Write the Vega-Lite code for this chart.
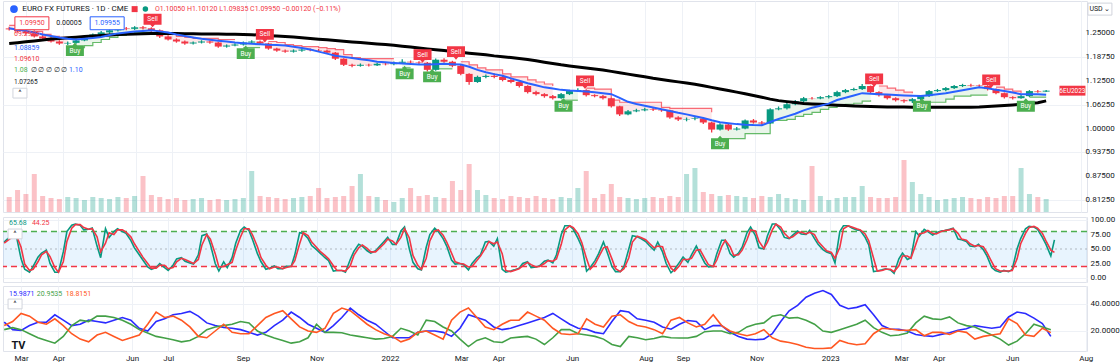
{
"$schema":"https://vega.github.io/schema/vega-lite/v6.json",
"padding":0,
"background":"#ffffff",
"spacing":2,
"config":{
 "view":{"stroke":"#e0e3eb"},
 "font":"Roboto",
 "axis":{"labelFont":"Roboto","labelFontSize":8,"labelColor":"#131722","labelOverlap":false,"domain":false,"ticks":false,"gridColor":"#eef1f6","title":null}
},
"datasets":{
"w":[
{"d":"2021-02-15","o":1.2630,"h":1.2672,"l":1.2575,"c":1.2606,"v":15,"b":1.2633,"m":1.2234,"st":1.2713,"g":1,"t":"dn","a":26.5,"p":21,"n":24},
{"d":"2021-02-22","o":1.2606,"h":1.2640,"l":1.2520,"c":1.2553,"v":22,"b":1.2593,"m":1.2255,"st":1.2659,"g":1,"t":"dn","a":21,"p":22.5,"n":27},
{"d":"2021-03-01","o":1.2553,"h":1.2590,"l":1.2465,"c":1.2500,"v":18,"b":1.2566,"m":1.2279,"st":1.2606,"g":1,"t":"dn","a":20.5,"p":21,"n":33},
{"d":"2021-03-08","o":1.2500,"h":1.2535,"l":1.2390,"c":1.2420,"v":38,"b":1.2526,"m":1.2303,"st":1.2553,"g":1,"t":"dn","a":24,"p":18,"n":31},
{"d":"2021-03-15","o":1.2420,"h":1.2455,"l":1.2330,"c":1.2367,"v":16,"b":1.2473,"m":1.2324,"st":1.2473,"g":1,"t":"dn","a":26.5,"p":15,"n":26.5},
{"d":"2021-03-22","o":1.2367,"h":1.2400,"l":1.2260,"c":1.2287,"v":14,"b":1.2433,"m":1.2351,"st":1.2420,"g":1,"t":"dn","a":26.5,"p":13,"n":25},
{"d":"2021-03-29","o":1.2287,"h":1.2320,"l":1.2200,"c":1.2234,"v":13,"b":1.2393,"m":1.2367,"st":1.2393,"g":1,"t":"dn","a":32,"p":11,"n":29},
{"d":"2021-04-05","o":1.2234,"h":1.2285,"l":1.2195,"c":1.2250,"v":15,"b":1.2359,"m":1.2385,"st":1.2393,"g":1,"t":"dn","a":28,"p":16,"n":24},
{"d":"2021-04-12","o":1.2250,"h":1.2345,"l":1.2230,"c":1.2314,"v":14,"b":1.2340,"m":1.2401,"st":1.2127,"g":2,"t":"up","a":24,"p":24,"n":18},
{"d":"2021-04-19","o":1.2314,"h":1.2420,"l":1.2295,"c":1.2393,"v":12,"b":1.2359,"m":1.2420,"st":1.2181,"g":2,"t":"up","a":25,"p":28,"n":14},
{"d":"2021-04-26","o":1.2393,"h":1.2500,"l":1.2370,"c":1.2473,"v":15,"b":1.2380,"m":1.2433,"st":1.2260,"g":2,"t":"up","a":28,"p":27,"n":12},
{"d":"2021-05-03","o":1.2473,"h":1.2560,"l":1.2445,"c":1.2526,"v":14,"b":1.2407,"m":1.2444,"st":1.2340,"g":2,"t":"up","a":27,"p":31,"n":17},
{"d":"2021-05-10","o":1.2526,"h":1.2615,"l":1.2490,"c":1.2580,"v":13,"b":1.2457,"m":1.2457,"st":1.2393,"g":2,"t":"up","a":26,"p":31,"n":19},
{"d":"2021-05-17","o":1.2580,"h":1.2665,"l":1.2550,"c":1.2633,"v":15,"b":1.2500,"m":1.2468,"st":1.2447,"g":2,"t":"up","a":28,"p":30,"n":16},
{"d":"2021-05-24","o":1.2633,"h":1.2670,"l":1.2585,"c":1.2620,"v":14,"b":1.2526,"m":1.2476,"st":1.2500,"g":2,"t":"up","a":30,"p":28,"n":13},
{"d":"2021-05-31","o":1.2620,"h":1.2690,"l":1.2590,"c":1.2659,"v":16,"b":1.2548,"m":1.2484,"st":1.2526,"g":2,"t":"up","a":28,"p":25,"n":15},
{"d":"2021-06-07","o":1.2659,"h":1.2695,"l":1.2600,"c":1.2633,"v":36,"b":1.2564,"m":1.2492,"st":1.2526,"g":2,"t":"up","a":22,"p":21,"n":17},
{"d":"2021-06-14","o":1.2633,"h":1.2660,"l":1.2540,"c":1.2580,"v":17,"b":1.2580,"m":1.2497,"st":1.2526,"g":2,"t":"up","a":20,"p":18.5,"n":25},
{"d":"2021-06-21","o":1.2580,"h":1.2600,"l":1.2380,"c":1.2420,"v":15,"b":1.2553,"m":1.2500,"st":1.2526,"g":3,"t":"dn","a":27,"p":16,"n":34},
{"d":"2021-06-28","o":1.2420,"h":1.2450,"l":1.2310,"c":1.2340,"v":13,"b":1.2521,"m":1.2500,"st":1.2473,"g":3,"t":"dn","a":29,"p":14.8,"n":30},
{"d":"2021-07-05","o":1.2340,"h":1.2370,"l":1.2255,"c":1.2287,"v":14,"b":1.2473,"m":1.2495,"st":1.2420,"g":3,"t":"dn","a":32,"p":13.5,"n":31},
{"d":"2021-07-12","o":1.2287,"h":1.2310,"l":1.2200,"c":1.2234,"v":12,"b":1.2431,"m":1.2492,"st":1.2393,"g":3,"t":"dn","a":33,"p":12,"n":28},
{"d":"2021-07-19","o":1.2234,"h":1.2290,"l":1.2205,"c":1.2260,"v":13,"b":1.2393,"m":1.2489,"st":1.2367,"g":3,"t":"dn","a":34.5,"p":13,"n":23},
{"d":"2021-07-26","o":1.2260,"h":1.2320,"l":1.2235,"c":1.2287,"v":14,"b":1.2359,"m":1.2486,"st":1.2367,"g":3,"t":"dn","a":31,"p":16,"n":16},
{"d":"2021-08-02","o":1.2287,"h":1.2310,"l":1.2230,"c":1.2260,"v":12,"b":1.2332,"m":1.2484,"st":1.2367,"g":3,"t":"dn","a":26,"p":21,"n":15},
{"d":"2021-08-09","o":1.2260,"h":1.2280,"l":1.2120,"c":1.2154,"v":13,"b":1.2308,"m":1.2481,"st":1.2340,"g":3,"t":"dn","a":24,"p":23,"n":20},
{"d":"2021-08-16","o":1.2154,"h":1.2210,"l":1.2125,"c":1.2181,"v":12,"b":1.2287,"m":1.2478,"st":1.2340,"g":3,"t":"dn","a":22.6,"p":24,"n":25},
{"d":"2021-08-23","o":1.2181,"h":1.2240,"l":1.2160,"c":1.2207,"v":13,"b":1.2260,"m":1.2476,"st":1.2340,"g":3,"t":"dn","a":22,"p":25,"n":19},
{"d":"2021-08-30","o":1.2207,"h":1.2290,"l":1.2185,"c":1.2260,"v":14,"b":1.2242,"m":1.2473,"st":1.2127,"g":4,"t":"up","a":21,"p":27,"n":18},
{"d":"2021-09-06","o":1.2260,"h":1.2320,"l":1.2235,"c":1.2287,"v":41,"b":1.2226,"m":1.2465,"st":1.2127,"g":4,"t":"up","a":19,"p":26,"n":18},
{"d":"2021-09-13","o":1.2287,"h":1.2310,"l":1.2200,"c":1.2234,"v":16,"b":1.2215,"m":1.2455,"st":1.2127,"g":4,"t":"up","a":17,"p":20,"n":24},
{"d":"2021-09-20","o":1.2234,"h":1.2255,"l":1.2070,"c":1.2101,"v":15,"b":1.2202,"m":1.2441,"st":1.2287,"g":5,"t":"dn","a":19,"p":17,"n":30},
{"d":"2021-09-27","o":1.2101,"h":1.2125,"l":1.2015,"c":1.2048,"v":14,"b":1.2194,"m":1.2431,"st":1.2260,"g":5,"t":"dn","a":24,"p":14.8,"n":33},
{"d":"2021-10-04","o":1.2048,"h":1.2075,"l":1.1990,"c":1.2021,"v":13,"b":1.2181,"m":1.2420,"st":1.2207,"g":5,"t":"dn","a":28,"p":13,"n":35},
{"d":"2021-10-11","o":1.2021,"h":1.2080,"l":1.1995,"c":1.2048,"v":14,"b":1.2149,"m":1.2404,"st":1.2181,"g":5,"t":"dn","a":34,"p":11,"n":29},
{"d":"2021-10-18","o":1.2048,"h":1.2105,"l":1.2020,"c":1.2074,"v":15,"b":1.2117,"m":1.2385,"st":1.2154,"g":5,"t":"dn","a":30,"p":12,"n":23},
{"d":"2021-10-25","o":1.2074,"h":1.2100,"l":1.2030,"c":1.2060,"v":16,"b":1.2074,"m":1.2367,"st":1.2154,"g":5,"t":"dn","a":25,"p":15,"n":20},
{"d":"2021-11-01","o":1.2060,"h":1.2090,"l":1.2015,"c":1.2048,"v":24,"b":1.2021,"m":1.2348,"st":1.2127,"g":5,"t":"dn","a":22,"p":25,"n":19},
{"d":"2021-11-08","o":1.2048,"h":1.2070,"l":1.1960,"c":1.1994,"v":14,"b":1.1968,"m":1.2332,"st":1.2101,"g":5,"t":"dn","a":19,"p":19,"n":22},
{"d":"2021-11-15","o":1.1994,"h":1.2010,"l":1.1800,"c":1.1835,"v":15,"b":1.1915,"m":1.2314,"st":1.2074,"g":5,"t":"dn","a":24,"p":19,"n":33},
{"d":"2021-11-22","o":1.1835,"h":1.1850,"l":1.1640,"c":1.1675,"v":16,"b":1.1883,"m":1.2295,"st":1.1941,"g":5,"t":"dn","a":30,"p":18.7,"n":37},
{"d":"2021-11-29","o":1.1675,"h":1.1700,"l":1.1610,"c":1.1649,"v":26,"b":1.1853,"m":1.2276,"st":1.1861,"g":5,"t":"dn","a":37,"p":17,"n":35},
{"d":"2021-12-06","o":1.1649,"h":1.1710,"l":1.1625,"c":1.1675,"v":38,"b":1.1821,"m":1.2258,"st":1.1835,"g":5,"t":"dn","a":32,"p":16,"n":30},
{"d":"2021-12-13","o":1.1675,"h":1.1700,"l":1.1630,"c":1.1660,"v":16,"b":1.1792,"m":1.2242,"st":1.1835,"g":5,"t":"dn","a":28,"p":15,"n":25},
{"d":"2021-12-20","o":1.1660,"h":1.1730,"l":1.1640,"c":1.1702,"v":15,"b":1.1755,"m":1.2223,"st":1.1835,"g":5,"t":"dn","a":25,"p":14,"n":21},
{"d":"2021-12-27","o":1.1702,"h":1.1725,"l":1.1660,"c":1.1690,"v":12,"b":1.1739,"m":1.2207,"st":1.1835,"g":5,"t":"dn","a":20,"p":14.5,"n":18},
{"d":"2022-01-03","o":1.1690,"h":1.1760,"l":1.1665,"c":1.1728,"v":10,"b":1.1723,"m":1.2186,"st":1.1835,"g":5,"t":"dn","a":15,"p":16,"n":16},
{"d":"2022-01-10","o":1.1728,"h":1.1820,"l":1.1710,"c":1.1755,"v":14,"b":1.1707,"m":1.2165,"st":1.1595,"g":6,"t":"up","a":15,"p":22,"n":12},
{"d":"2022-01-17","o":1.1755,"h":1.1790,"l":1.1715,"c":1.1740,"v":24,"b":1.1694,"m":1.2141,"st":1.1595,"g":6,"t":"up","a":15,"p":20,"n":14},
{"d":"2022-01-24","o":1.1740,"h":1.1770,"l":1.1690,"c":1.1728,"v":16,"b":1.1681,"m":1.2117,"st":1.1861,"g":7,"t":"dn","a":19,"p":17,"n":19},
{"d":"2022-01-31","o":1.1728,"h":1.1745,"l":1.1500,"c":1.1542,"v":17,"b":1.1681,"m":1.2093,"st":1.1861,"g":7,"t":"dn","a":20,"p":28,"n":20},
{"d":"2022-02-07","o":1.1542,"h":1.1840,"l":1.1520,"c":1.1808,"v":15,"b":1.1691,"m":1.2072,"st":1.1569,"g":8,"t":"up","a":20,"p":27,"n":17},
{"d":"2022-02-14","o":1.1808,"h":1.1850,"l":1.1730,"c":1.1755,"v":14,"b":1.1702,"m":1.2048,"st":1.1569,"g":8,"t":"up","a":19,"p":23,"n":14},
{"d":"2022-02-21","o":1.1755,"h":1.1780,"l":1.1610,"c":1.1649,"v":31,"b":1.1691,"m":1.2024,"st":1.1569,"g":8,"t":"up","a":16,"p":20,"n":28},
{"d":"2022-02-28","o":1.1649,"h":1.1670,"l":1.1400,"c":1.1436,"v":22,"b":1.1681,"m":1.2002,"st":1.1755,"g":9,"t":"dn","a":22,"p":14,"n":34},
{"d":"2022-03-07","o":1.1436,"h":1.1450,"l":1.1150,"c":1.1223,"v":48,"b":1.1622,"m":1.1981,"st":1.1675,"g":9,"t":"dn","a":32,"p":8.5,"n":37},
{"d":"2022-03-14","o":1.1223,"h":1.1390,"l":1.1200,"c":1.1356,"v":22,"b":1.1542,"m":1.1957,"st":1.1595,"g":9,"t":"dn","a":30,"p":13,"n":30},
{"d":"2022-03-21","o":1.1356,"h":1.1420,"l":1.1320,"c":1.1383,"v":17,"b":1.1478,"m":1.1936,"st":1.1542,"g":9,"t":"dn","a":28,"p":15,"n":23},
{"d":"2022-03-28","o":1.1383,"h":1.1450,"l":1.1320,"c":1.1356,"v":14,"b":1.1430,"m":1.1909,"st":1.1542,"g":9,"t":"dn","a":23,"p":12,"n":21},
{"d":"2022-04-04","o":1.1356,"h":1.1380,"l":1.1240,"c":1.1276,"v":13,"b":1.1388,"m":1.1888,"st":1.1436,"g":9,"t":"dn","a":21,"p":11.5,"n":25},
{"d":"2022-04-11","o":1.1276,"h":1.1300,"l":1.1190,"c":1.1223,"v":16,"b":1.1319,"m":1.1864,"st":1.1356,"g":9,"t":"dn","a":22,"p":14.8,"n":28},
{"d":"2022-04-18","o":1.1223,"h":1.1240,"l":1.1080,"c":1.1117,"v":15,"b":1.1255,"m":1.1840,"st":1.1356,"g":9,"t":"dn","a":24,"p":15.5,"n":28},
{"d":"2022-04-25","o":1.1117,"h":1.1135,"l":1.0920,"c":1.0957,"v":14,"b":1.1191,"m":1.1813,"st":1.1276,"g":9,"t":"dn","a":26,"p":16,"n":34},
{"d":"2022-05-02","o":1.0957,"h":1.0990,"l":1.0870,"c":1.0904,"v":16,"b":1.1135,"m":1.1779,"st":1.1223,"g":9,"t":"dn","a":28,"p":14,"n":31},
{"d":"2022-05-09","o":1.0904,"h":1.0930,"l":1.0810,"c":1.0851,"v":14,"b":1.1082,"m":1.1744,"st":1.1170,"g":9,"t":"dn","a":30,"p":10,"n":28},
{"d":"2022-05-16","o":1.0851,"h":1.0880,"l":1.0760,"c":1.0797,"v":13,"b":1.1050,"m":1.1710,"st":1.1117,"g":9,"t":"dn","a":33,"p":15,"n":22},
{"d":"2022-05-23","o":1.0797,"h":1.0935,"l":1.0780,"c":1.0904,"v":15,"b":1.1016,"m":1.1675,"st":1.0744,"g":10,"t":"up","a":29,"p":21,"n":18},
{"d":"2022-05-30","o":1.0904,"h":1.1020,"l":1.0880,"c":1.0984,"v":14,"b":1.1000,"m":1.1646,"st":1.0744,"g":10,"t":"up","a":25,"p":21,"n":17.4},
{"d":"2022-06-06","o":1.0984,"h":1.1060,"l":1.0960,"c":1.1010,"v":24,"b":1.0989,"m":1.1617,"st":1.0744,"g":10,"t":"up","a":22,"p":18,"n":18},
{"d":"2022-06-13","o":1.1010,"h":1.1030,"l":1.0840,"c":1.0877,"v":41,"b":1.0973,"m":1.1590,"st":1.1063,"g":11,"t":"dn","a":21.3,"p":17,"n":29},
{"d":"2022-06-20","o":1.0877,"h":1.0900,"l":1.0820,"c":1.0851,"v":14,"b":1.0952,"m":1.1563,"st":1.1037,"g":11,"t":"dn","a":19,"p":16,"n":25},
{"d":"2022-06-27","o":1.0851,"h":1.0880,"l":1.0760,"c":1.0797,"v":18,"b":1.0928,"m":1.1537,"st":1.1037,"g":11,"t":"dn","a":18,"p":14,"n":23},
{"d":"2022-07-04","o":1.0797,"h":1.0810,"l":1.0550,"c":1.0585,"v":28,"b":1.0904,"m":1.1502,"st":1.0744,"g":11,"t":"dn","a":27,"p":10,"n":31},
{"d":"2022-07-11","o":1.0585,"h":1.0600,"l":1.0330,"c":1.0372,"v":15,"b":1.0805,"m":1.1468,"st":1.0691,"g":11,"t":"dn","a":35,"p":8.5,"n":32},
{"d":"2022-07-18","o":1.0372,"h":1.0490,"l":1.0350,"c":1.0452,"v":14,"b":1.0702,"m":1.1430,"st":1.0691,"g":11,"t":"dn","a":34,"p":16,"n":27},
{"d":"2022-07-25","o":1.0452,"h":1.0520,"l":1.0430,"c":1.0478,"v":13,"b":1.0646,"m":1.1393,"st":1.0691,"g":11,"t":"dn","a":29,"p":15,"n":24},
{"d":"2022-08-01","o":1.0478,"h":1.0545,"l":1.0455,"c":1.0505,"v":14,"b":1.0601,"m":1.1359,"st":1.0691,"g":11,"t":"dn","a":28,"p":13.5,"n":23},
{"d":"2022-08-08","o":1.0505,"h":1.0550,"l":1.0460,"c":1.0490,"v":15,"b":1.0555,"m":1.1321,"st":1.0691,"g":11,"t":"dn","a":26.5,"p":14.5,"n":21},
{"d":"2022-08-15","o":1.0490,"h":1.0520,"l":1.0440,"c":1.0478,"v":14,"b":1.0505,"m":1.1290,"st":1.0558,"g":11,"t":"dn","a":23,"p":16,"n":18},
{"d":"2022-08-22","o":1.0478,"h":1.0495,"l":1.0255,"c":1.0292,"v":16,"b":1.0462,"m":1.1258,"st":1.0531,"g":11,"t":"dn","a":21.3,"p":15,"n":28},
{"d":"2022-08-29","o":1.0292,"h":1.0320,"l":1.0200,"c":1.0239,"v":15,"b":1.0414,"m":1.1226,"st":1.0531,"g":11,"t":"dn","a":25,"p":14.8,"n":30},
{"d":"2022-09-05","o":1.0239,"h":1.0290,"l":1.0190,"c":1.0250,"v":38,"b":1.0372,"m":1.1196,"st":1.0531,"g":11,"t":"dn","a":27.8,"p":14.8,"n":26},
{"d":"2022-09-12","o":1.0250,"h":1.0320,"l":1.0220,"c":1.0265,"v":44,"b":1.0324,"m":1.1165,"st":1.0531,"g":11,"t":"dn","a":27,"p":16,"n":23},
{"d":"2022-09-19","o":1.0265,"h":1.0290,"l":1.0120,"c":1.0159,"v":20,"b":1.0279,"m":1.1125,"st":1.0531,"g":11,"t":"dn","a":21,"p":19.5,"n":25},
{"d":"2022-09-26","o":1.0159,"h":1.0180,"l":0.9893,"c":0.9973,"v":18,"b":1.0218,"m":1.1082,"st":1.0425,"g":11,"t":"dn","a":24,"p":20,"n":32},
{"d":"2022-10-03","o":0.9973,"h":1.0140,"l":0.9950,"c":1.0106,"v":16,"b":1.0164,"m":1.1040,"st":0.9733,"g":12,"t":"up","a":24,"p":20,"n":24},
{"d":"2022-10-10","o":1.0106,"h":1.0125,"l":0.9940,"c":0.9973,"v":17,"b":1.0138,"m":1.0997,"st":0.9733,"g":12,"t":"up","a":19,"p":18,"n":20},
{"d":"2022-10-17","o":0.9973,"h":1.0040,"l":0.9950,"c":0.9999,"v":16,"b":1.0116,"m":1.0957,"st":0.9733,"g":12,"t":"up","a":16,"p":19,"n":18},
{"d":"2022-10-24","o":0.9999,"h":1.0240,"l":0.9980,"c":1.0212,"v":15,"b":1.0100,"m":1.0914,"st":0.9866,"g":12,"t":"up","a":14,"p":23,"n":16.5},
{"d":"2022-10-31","o":1.0212,"h":1.0250,"l":1.0130,"c":1.0159,"v":14,"b":1.0090,"m":1.0867,"st":0.9866,"g":12,"t":"up","a":13.5,"p":25,"n":18},
{"d":"2022-11-07","o":1.0159,"h":1.0200,"l":1.0100,"c":1.0132,"v":16,"b":1.0085,"m":1.0821,"st":0.9866,"g":12,"t":"up","a":14,"p":26,"n":21},
{"d":"2022-11-14","o":1.0132,"h":1.0530,"l":1.0120,"c":1.0505,"v":15,"b":1.0172,"m":1.0773,"st":1.0212,"g":12,"t":"up","a":18,"p":31,"n":15},
{"d":"2022-11-21","o":1.0505,"h":1.0580,"l":1.0480,"c":1.0531,"v":18,"b":1.0249,"m":1.0733,"st":1.0212,"g":12,"t":"up","a":27,"p":32,"n":12.5},
{"d":"2022-11-28","o":1.0531,"h":1.0670,"l":1.0500,"c":1.0638,"v":14,"b":1.0319,"m":1.0707,"st":1.0239,"g":12,"t":"up","a":35,"p":29.5,"n":11.5},
{"d":"2022-12-05","o":1.0638,"h":1.0750,"l":1.0610,"c":1.0718,"v":13,"b":1.0390,"m":1.0683,"st":1.0319,"g":12,"t":"up","a":39,"p":30,"n":10},
{"d":"2022-12-12","o":1.0718,"h":1.0830,"l":1.0690,"c":1.0797,"v":12,"b":1.0476,"m":1.0656,"st":1.0372,"g":12,"t":"up","a":45,"p":28,"n":8},
{"d":"2022-12-19","o":1.0797,"h":1.0830,"l":1.0760,"c":1.0790,"v":46,"b":1.0545,"m":1.0646,"st":1.0425,"g":12,"t":"up","a":48,"p":25,"n":7},
{"d":"2022-12-26","o":1.0790,"h":1.0850,"l":1.0770,"c":1.0824,"v":16,"b":1.0601,"m":1.0635,"st":1.0505,"g":12,"t":"up","a":49.9,"p":20,"n":7},
{"d":"2023-01-02","o":1.0824,"h":1.0880,"l":1.0790,"c":1.0851,"v":12,"b":1.0654,"m":1.0622,"st":1.0558,"g":12,"t":"up","a":47,"p":19,"n":7.5},
{"d":"2023-01-09","o":1.0851,"h":1.0990,"l":1.0830,"c":1.0957,"v":14,"b":1.0750,"m":1.0611,"st":1.0585,"g":12,"t":"up","a":39,"p":21,"n":13},
{"d":"2023-01-16","o":1.0957,"h":1.1040,"l":1.0930,"c":1.1010,"v":15,"b":1.0811,"m":1.0603,"st":1.0638,"g":12,"t":"up","a":36.5,"p":23,"n":11},
{"d":"2023-01-23","o":1.1010,"h":1.1070,"l":1.0990,"c":1.1037,"v":15,"b":1.0869,"m":1.0595,"st":1.0665,"g":12,"t":"up","a":37.5,"p":25,"n":9.8},
{"d":"2023-01-30","o":1.1037,"h":1.1170,"l":1.1010,"c":1.1117,"v":26,"b":1.0930,"m":1.0585,"st":1.0718,"g":12,"t":"up","a":39.5,"p":28,"n":10.5},
{"d":"2023-02-06","o":1.1117,"h":1.1130,"l":1.0920,"c":1.0957,"v":15,"b":1.0917,"m":1.0577,"st":1.0744,"g":12,"t":"up","a":32,"p":22.5,"n":18},
{"d":"2023-02-13","o":1.0957,"h":1.0980,"l":1.0840,"c":1.0877,"v":14,"b":1.0904,"m":1.0571,"st":1.1117,"g":13,"t":"dn","a":24,"p":19,"n":22},
{"d":"2023-02-20","o":1.0877,"h":1.0900,"l":1.0760,"c":1.0797,"v":14,"b":1.0893,"m":1.0569,"st":1.1063,"g":13,"t":"dn","a":21.3,"p":16.5,"n":21.5},
{"d":"2023-02-27","o":1.0797,"h":1.0820,"l":1.0710,"c":1.0744,"v":15,"b":1.0883,"m":1.0566,"st":1.1010,"g":13,"t":"dn","a":21.3,"p":17,"n":20.5},
{"d":"2023-03-06","o":1.0744,"h":1.0770,"l":1.0680,"c":1.0718,"v":52,"b":1.0869,"m":1.0563,"st":1.0957,"g":13,"t":"dn","a":20,"p":18.5,"n":20.5},
{"d":"2023-03-13","o":1.0718,"h":1.0800,"l":1.0670,"c":1.0771,"v":30,"b":1.0859,"m":1.0561,"st":1.0930,"g":13,"t":"dn","a":17.4,"p":26,"n":21},
{"d":"2023-03-20","o":1.0771,"h":1.0880,"l":1.0750,"c":1.0851,"v":18,"b":1.0853,"m":1.0558,"st":1.0691,"g":14,"t":"up","a":16.5,"p":31,"n":16.5},
{"d":"2023-03-27","o":1.0851,"h":1.1010,"l":1.0830,"c":1.0984,"v":15,"b":1.0872,"m":1.0558,"st":1.0691,"g":14,"t":"up","a":16,"p":29,"n":19},
{"d":"2023-04-03","o":1.0984,"h":1.1040,"l":1.0960,"c":1.1010,"v":12,"b":1.0898,"m":1.0558,"st":1.0691,"g":14,"t":"up","a":17.5,"p":28.5,"n":19},
{"d":"2023-04-10","o":1.1010,"h":1.1090,"l":1.0980,"c":1.1063,"v":13,"b":1.0925,"m":1.0558,"st":1.0771,"g":14,"t":"up","a":18.7,"p":30.4,"n":17.4},
{"d":"2023-04-17","o":1.1063,"h":1.1145,"l":1.1040,"c":1.1117,"v":14,"b":1.0968,"m":1.0558,"st":1.0851,"g":14,"t":"up","a":20.5,"p":26,"n":20},
{"d":"2023-04-24","o":1.1117,"h":1.1175,"l":1.1090,"c":1.1143,"v":15,"b":1.1008,"m":1.0558,"st":1.0851,"g":14,"t":"up","a":21.6,"p":24,"n":19},
{"d":"2023-05-01","o":1.1143,"h":1.1180,"l":1.1100,"c":1.1130,"v":14,"b":1.1047,"m":1.0558,"st":1.0877,"g":14,"t":"up","a":24,"p":23,"n":14},
{"d":"2023-05-08","o":1.1130,"h":1.1160,"l":1.1085,"c":1.1117,"v":13,"b":1.1085,"m":1.0566,"st":1.0877,"g":14,"t":"up","a":23,"p":20,"n":16},
{"d":"2023-05-15","o":1.1117,"h":1.1140,"l":1.1000,"c":1.1037,"v":15,"b":1.1055,"m":1.0579,"st":1.0877,"g":14,"t":"up","a":22,"p":17,"n":17},
{"d":"2023-05-22","o":1.1037,"h":1.1050,"l":1.0900,"c":1.0930,"v":14,"b":1.1021,"m":1.0593,"st":1.1090,"g":15,"t":"dn","a":23,"p":14,"n":18},
{"d":"2023-05-29","o":1.0930,"h":1.0950,"l":1.0790,"c":1.0824,"v":16,"b":1.0989,"m":1.0606,"st":1.1037,"g":15,"t":"dn","a":30.4,"p":9.6,"n":29},
{"d":"2023-06-05","o":1.0824,"h":1.0850,"l":1.0765,"c":1.0797,"v":16,"b":1.0946,"m":1.0619,"st":1.0984,"g":15,"t":"dn","a":34,"p":12.5,"n":25.5},
{"d":"2023-06-12","o":1.0797,"h":1.0880,"l":1.0780,"c":1.0851,"v":44,"b":1.0904,"m":1.0635,"st":1.0930,"g":15,"t":"dn","a":33,"p":18,"n":17},
{"d":"2023-06-19","o":1.0851,"h":1.1010,"l":1.0830,"c":1.0984,"v":18,"b":1.0904,"m":1.0656,"st":1.0824,"g":16,"t":"up","a":29.5,"p":25,"n":16},
{"d":"2023-06-26","o":1.0984,"h":1.1012,"l":1.0940,"c":1.0970,"v":15,"b":1.0900,"m":1.0680,"st":1.0824,"g":16,"t":"up","a":25.5,"p":23,"n":22},
{"d":"2023-07-03","o":1.0970,"h":1.1012,"l":1.0960,"c":1.0995,"v":13,"b":1.0886,"m":1.0727,"st":1.0824,"g":16,"t":"up","a":16,"p":21,"n":18.8}
],
"stoch":[
{"d":"2021-02-15","k":62,"s":60},{"d":"2021-02-18","k":68,"s":65},
{"d":"2021-02-22","k":74,"s":71},{"d":"2021-02-25","k":73,"s":74},
{"d":"2021-03-01","k":33,"s":53},{"d":"2021-03-04","k":15,"s":24},
{"d":"2021-03-08","k":10,"s":13},{"d":"2021-03-11","k":20,"s":15},
{"d":"2021-03-15","k":36,"s":28},{"d":"2021-03-18","k":43,"s":40},
{"d":"2021-03-22","k":48,"s":46},{"d":"2021-03-25","k":25,"s":37},
{"d":"2021-03-29","k":10,"s":18},{"d":"2021-04-01","k":10,"s":10},
{"d":"2021-04-05","k":45,"s":28},{"d":"2021-04-08","k":80,"s":63},
{"d":"2021-04-12","k":91,"s":86},{"d":"2021-04-15","k":93,"s":92},
{"d":"2021-04-19","k":91,"s":92},{"d":"2021-04-22","k":83,"s":87},
{"d":"2021-04-26","k":84,"s":84},{"d":"2021-04-29","k":86,"s":85},
{"d":"2021-05-03","k":55,"s":71},{"d":"2021-05-06","k":35,"s":45},
{"d":"2021-05-10","k":85,"s":60},{"d":"2021-05-13","k":70,"s":78},
{"d":"2021-05-17","k":80,"s":75},{"d":"2021-05-20","k":85,"s":83},
{"d":"2021-05-24","k":80,"s":83},{"d":"2021-05-27","k":77,"s":79},
{"d":"2021-05-31","k":65,"s":71},{"d":"2021-06-03","k":52,"s":59},
{"d":"2021-06-07","k":40,"s":46},{"d":"2021-06-10","k":31,"s":36},
{"d":"2021-06-14","k":19,"s":25},{"d":"2021-06-17","k":15,"s":17},
{"d":"2021-06-21","k":18,"s":17},{"d":"2021-06-24","k":25,"s":22},
{"d":"2021-06-28","k":18,"s":22},{"d":"2021-07-01","k":13,"s":16},
{"d":"2021-07-05","k":22,"s":18},{"d":"2021-07-08","k":33,"s":28},
{"d":"2021-07-12","k":35,"s":34},{"d":"2021-07-15","k":29,"s":32},
{"d":"2021-07-19","k":26,"s":28},{"d":"2021-07-22","k":24,"s":25},
{"d":"2021-07-26","k":40,"s":32},{"d":"2021-07-29","k":73,"s":57},
{"d":"2021-08-02","k":76,"s":75},{"d":"2021-08-05","k":58,"s":67},
{"d":"2021-08-09","k":25,"s":42},{"d":"2021-08-12","k":12,"s":19},
{"d":"2021-08-16","k":28,"s":20},{"d":"2021-08-19","k":18,"s":23},
{"d":"2021-08-23","k":35,"s":27},{"d":"2021-08-26","k":60,"s":48},
{"d":"2021-08-30","k":82,"s":71},{"d":"2021-09-02","k":88,"s":85},
{"d":"2021-09-06","k":82,"s":85},{"d":"2021-09-09","k":66,"s":74},
{"d":"2021-09-13","k":42,"s":54},{"d":"2021-09-16","k":28,"s":35},
{"d":"2021-09-20","k":15,"s":22},{"d":"2021-09-23","k":17,"s":16},
{"d":"2021-09-27","k":21,"s":19},{"d":"2021-09-30","k":16,"s":19},
{"d":"2021-10-04","k":16,"s":16},{"d":"2021-10-07","k":20,"s":18},
{"d":"2021-10-11","k":20,"s":20},{"d":"2021-10-14","k":40,"s":30},
{"d":"2021-10-18","k":78,"s":59},{"d":"2021-10-21","k":77,"s":78},
{"d":"2021-10-25","k":68,"s":73},{"d":"2021-10-28","k":56,"s":62},
{"d":"2021-11-01","k":49,"s":53},{"d":"2021-11-04","k":43,"s":46},
{"d":"2021-11-08","k":35,"s":39},{"d":"2021-11-11","k":30,"s":33},
{"d":"2021-11-15","k":12,"s":21},{"d":"2021-11-18","k":13,"s":13},
{"d":"2021-11-22","k":13,"s":13},{"d":"2021-11-25","k":10,"s":12},
{"d":"2021-11-29","k":32,"s":21},{"d":"2021-12-02","k":46,"s":39},
{"d":"2021-12-06","k":58,"s":52},{"d":"2021-12-09","k":55,"s":57},
{"d":"2021-12-13","k":47,"s":51},{"d":"2021-12-16","k":43,"s":45},
{"d":"2021-12-20","k":47,"s":45},{"d":"2021-12-23","k":54,"s":51},
{"d":"2021-12-27","k":63,"s":59},{"d":"2021-12-30","k":70,"s":67},
{"d":"2022-01-03","k":58,"s":64},{"d":"2022-01-06","k":58,"s":58},
{"d":"2022-01-10","k":81,"s":70},{"d":"2022-01-13","k":88,"s":85},
{"d":"2022-01-17","k":50,"s":69},{"d":"2022-01-20","k":27,"s":39},
{"d":"2022-01-24","k":16,"s":22},{"d":"2022-01-27","k":14,"s":15},
{"d":"2022-01-31","k":53,"s":34},{"d":"2022-02-03","k":75,"s":64},
{"d":"2022-02-07","k":86,"s":81},{"d":"2022-02-10","k":80,"s":83},
{"d":"2022-02-14","k":68,"s":74},{"d":"2022-02-17","k":55,"s":62},
{"d":"2022-02-21","k":31,"s":43},{"d":"2022-02-24","k":24,"s":28},
{"d":"2022-02-28","k":25,"s":25},{"d":"2022-03-03","k":23,"s":24},
{"d":"2022-03-07","k":14,"s":19},{"d":"2022-03-10","k":25,"s":20},
{"d":"2022-03-14","k":35,"s":30},{"d":"2022-03-17","k":40,"s":38},
{"d":"2022-03-21","k":62,"s":51},{"d":"2022-03-24","k":63,"s":63},
{"d":"2022-03-28","k":55,"s":59},{"d":"2022-03-31","k":68,"s":62},
{"d":"2022-04-04","k":15,"s":42},{"d":"2022-04-07","k":10,"s":13},
{"d":"2022-04-11","k":12,"s":11},{"d":"2022-04-14","k":14,"s":13},
{"d":"2022-04-18","k":17,"s":16},{"d":"2022-04-21","k":25,"s":21},
{"d":"2022-04-25","k":28,"s":27},{"d":"2022-04-28","k":18,"s":23},
{"d":"2022-05-02","k":19,"s":19},{"d":"2022-05-05","k":21,"s":20},
{"d":"2022-05-09","k":29,"s":25},{"d":"2022-05-12","k":31,"s":30},
{"d":"2022-05-16","k":26,"s":29},{"d":"2022-05-19","k":40,"s":33},
{"d":"2022-05-23","k":75,"s":58},{"d":"2022-05-26","k":90,"s":83},
{"d":"2022-05-30","k":90,"s":90},{"d":"2022-06-02","k":84,"s":87},
{"d":"2022-06-06","k":68,"s":76},{"d":"2022-06-09","k":54,"s":61},
{"d":"2022-06-13","k":12,"s":33},{"d":"2022-06-16","k":18,"s":15},
{"d":"2022-06-20","k":30,"s":24},{"d":"2022-06-23","k":42,"s":36},
{"d":"2022-06-27","k":62,"s":52},{"d":"2022-06-30","k":45,"s":54},
{"d":"2022-07-04","k":20,"s":33},{"d":"2022-07-07","k":11,"s":16},
{"d":"2022-07-11","k":11,"s":11},{"d":"2022-07-14","k":20,"s":16},
{"d":"2022-07-18","k":50,"s":35},{"d":"2022-07-21","k":73,"s":62},
{"d":"2022-07-25","k":71,"s":72},{"d":"2022-07-28","k":68,"s":70},
{"d":"2022-08-01","k":63,"s":66},{"d":"2022-08-04","k":56,"s":60},
{"d":"2022-08-08","k":48,"s":52},{"d":"2022-08-11","k":62,"s":55},
{"d":"2022-08-15","k":45,"s":54},{"d":"2022-08-18","k":25,"s":35},
{"d":"2022-08-22","k":9,"s":17},{"d":"2022-08-25","k":15,"s":12},
{"d":"2022-08-29","k":27,"s":21},{"d":"2022-09-01","k":36,"s":32},
{"d":"2022-09-05","k":27,"s":32},{"d":"2022-09-08","k":40,"s":34},
{"d":"2022-09-12","k":55,"s":48},{"d":"2022-09-15","k":42,"s":49},
{"d":"2022-09-19","k":26,"s":34},{"d":"2022-09-22","k":19,"s":23},
{"d":"2022-09-26","k":20,"s":20},{"d":"2022-09-29","k":42,"s":31},
{"d":"2022-10-03","k":65,"s":54},{"d":"2022-10-06","k":65,"s":65},
{"d":"2022-10-10","k":42,"s":54},{"d":"2022-10-13","k":36,"s":39},
{"d":"2022-10-17","k":43,"s":40},{"d":"2022-10-20","k":53,"s":48},
{"d":"2022-10-24","k":78,"s":66},{"d":"2022-10-27","k":88,"s":83},
{"d":"2022-10-31","k":73,"s":81},{"d":"2022-11-03","k":52,"s":63},
{"d":"2022-11-07","k":50,"s":51},{"d":"2022-11-10","k":73,"s":62},
{"d":"2022-11-14","k":93,"s":83},{"d":"2022-11-17","k":93,"s":93},
{"d":"2022-11-21","k":83,"s":88},{"d":"2022-11-24","k":70,"s":77},
{"d":"2022-11-28","k":68,"s":69},{"d":"2022-12-01","k":74,"s":71},
{"d":"2022-12-05","k":81,"s":78},{"d":"2022-12-08","k":76,"s":79},
{"d":"2022-12-12","k":75,"s":76},{"d":"2022-12-15","k":82,"s":79},
{"d":"2022-12-19","k":68,"s":75},{"d":"2022-12-22","k":58,"s":63},
{"d":"2022-12-26","k":49,"s":54},{"d":"2022-12-29","k":45,"s":47},
{"d":"2023-01-02","k":42,"s":44},{"d":"2023-01-05","k":26,"s":34},
{"d":"2023-01-09","k":80,"s":53},{"d":"2023-01-12","k":90,"s":85},
{"d":"2023-01-16","k":90,"s":90},{"d":"2023-01-19","k":86,"s":88},
{"d":"2023-01-23","k":83,"s":85},{"d":"2023-01-26","k":82,"s":83},
{"d":"2023-01-30","k":70,"s":76},{"d":"2023-02-02","k":57,"s":64},
{"d":"2023-02-06","k":11,"s":34},{"d":"2023-02-09","k":12,"s":12},
{"d":"2023-02-13","k":14,"s":13},{"d":"2023-02-16","k":16,"s":15},
{"d":"2023-02-20","k":14,"s":15},{"d":"2023-02-23","k":8,"s":11},
{"d":"2023-02-27","k":33,"s":21},{"d":"2023-03-02","k":43,"s":38},
{"d":"2023-03-06","k":32,"s":38},{"d":"2023-03-09","k":35,"s":34},
{"d":"2023-03-13","k":80,"s":58},{"d":"2023-03-16","k":72,"s":76},
{"d":"2023-03-20","k":84,"s":78},{"d":"2023-03-23","k":80,"s":82},
{"d":"2023-03-27","k":74,"s":77},{"d":"2023-03-30","k":78,"s":76},
{"d":"2023-04-03","k":81,"s":80},{"d":"2023-04-06","k":82,"s":82},
{"d":"2023-04-10","k":84,"s":83},{"d":"2023-04-13","k":86,"s":85},
{"d":"2023-04-17","k":67,"s":77},{"d":"2023-04-20","k":66,"s":67},
{"d":"2023-04-24","k":63,"s":65},{"d":"2023-04-27","k":55,"s":59},
{"d":"2023-05-01","k":54,"s":55},{"d":"2023-05-04","k":58,"s":56},
{"d":"2023-05-08","k":49,"s":54},{"d":"2023-05-11","k":38,"s":44},
{"d":"2023-05-15","k":18,"s":28},{"d":"2023-05-18","k":13,"s":16},
{"d":"2023-05-22","k":10,"s":12},{"d":"2023-05-25","k":13,"s":12},
{"d":"2023-05-29","k":11,"s":12},{"d":"2023-06-01","k":15,"s":13},
{"d":"2023-06-05","k":50,"s":33},{"d":"2023-06-08","k":68,"s":59},
{"d":"2023-06-12","k":85,"s":77},{"d":"2023-06-15","k":89,"s":87},
{"d":"2023-06-19","k":88,"s":89},{"d":"2023-06-22","k":84,"s":86},
{"d":"2023-06-26","k":70,"s":77},{"d":"2023-06-29","k":58,"s":64},
{"d":"2023-07-03","k":38,"s":48},{"d":"2023-07-06","k":65.68,"s":44.25}
],
"sig":[
{"d":"2021-04-11","p":1.2048,"s":"Buy"},
{"d":"2021-09-01","p":1.1968,"s":"Buy"},
{"d":"2022-01-12","p":1.1436,"s":"Buy"},
{"d":"2022-02-04","p":1.1356,"s":"Buy"},
{"d":"2022-05-25","p":1.0585,"s":"Buy"},
{"d":"2022-10-03","p":0.9600,"s":"Buy"},
{"d":"2023-03-21","p":1.0585,"s":"Buy"},
{"d":"2023-06-16","p":1.0585,"s":"Buy"},
{"d":"2021-06-15","p":1.2872,"s":"Sell"},
{"d":"2021-09-17","p":1.2473,"s":"Sell"},
{"d":"2022-01-27","p":1.1941,"s":"Sell"},
{"d":"2022-02-24","p":1.2021,"s":"Sell"},
{"d":"2022-06-12","p":1.1250,"s":"Sell"},
{"d":"2023-02-09","p":1.1303,"s":"Sell"},
{"d":"2023-05-18","p":1.1276,"s":"Sell"}
]
},
"vconcat":[
{
 "width":1084,"height":211,
 "layer":[
  {"data":{"name":"w"},"mark":{"type":"bar","width":5,"opacity":0.3},
   "encoding":{
    "x":{"field":"d","type":"temporal","scale":{"type":"utc","domain":[{"year":2021,"month":2,"date":14,"utc":true},{"year":2023,"month":8,"date":2,"utc":true}]},
      "axis":{"values":[{"year":2021,"month":3,"date":1,"utc":true},{"year":2021,"month":4,"date":1,"utc":true},{"year":2021,"month":6,"date":1,"utc":true},{"year":2021,"month":7,"date":1,"utc":true},{"year":2021,"month":9,"date":1,"utc":true},{"year":2021,"month":11,"date":1,"utc":true},{"year":2022,"month":1,"date":1,"utc":true},{"year":2022,"month":3,"date":1,"utc":true},{"year":2022,"month":4,"date":1,"utc":true},{"year":2022,"month":6,"date":1,"utc":true},{"year":2022,"month":8,"date":1,"utc":true},{"year":2022,"month":9,"date":1,"utc":true},{"year":2022,"month":11,"date":1,"utc":true},{"year":2023,"month":1,"date":1,"utc":true},{"year":2023,"month":3,"date":1,"utc":true},{"year":2023,"month":4,"date":1,"utc":true},{"year":2023,"month":6,"date":1,"utc":true},{"year":2023,"month":8,"date":1,"utc":true}],"labels":false,"grid":true}},
    "y":{"field":"v","type":"quantitative","scale":{"domain":[0,211]},"axis":null},
    "color":{"condition":{"test":"datum.c>=datum.o","value":"#089981"},"value":"#f23645"}
   }},
  {"layer":[
   {"data":{"name":"w"},"mark":{"type":"area","interpolate":"step-after","opacity":0.12},
    "encoding":{
     "x":{"field":"d","type":"temporal","scale":{"type":"utc","domain":[{"year":2021,"month":2,"date":14,"utc":true},{"year":2023,"month":8,"date":2,"utc":true}]}},
     "y":{"field":"c","type":"quantitative","scale":{"domain":[0.7807,1.3351],"nice":false,"zero":false},
       "axis":{"orient":"right","values":[0.8125,0.875,0.9375,1,1.0625,1.125,1.1875,1.25],"labels":false,"grid":true}},
     "y2":{"field":"st"},
     "detail":{"field":"g","type":"nominal"},
     "color":{"condition":{"test":"datum.t=='up'","value":"#4caf50"},"value":"#f23645"}
    }},
   {"data":{"name":"w"},"mark":{"type":"line","interpolate":"step-after","strokeWidth":1.2,"opacity":0.85},
    "encoding":{
     "x":{"field":"d","type":"temporal","scale":{"type":"utc","domain":[{"year":2021,"month":2,"date":14,"utc":true},{"year":2023,"month":8,"date":2,"utc":true}]}},
     "y":{"field":"st","type":"quantitative","scale":{"domain":[0.7807,1.3351],"nice":false,"zero":false}},
     "detail":{"field":"g","type":"nominal"},
     "color":{"condition":{"test":"datum.t=='up'","value":"#4caf50"},"value":"#f7525f"}
    }},
   {"data":{"name":"w"},"mark":{"type":"rule","strokeWidth":1.3},
    "encoding":{
     "x":{"field":"d","type":"temporal","scale":{"type":"utc","domain":[{"year":2021,"month":2,"date":14,"utc":true},{"year":2023,"month":8,"date":2,"utc":true}]}},
     "y":{"field":"l","type":"quantitative","scale":{"domain":[0.7807,1.3351],"nice":false,"zero":false}},
     "y2":{"field":"h"},
     "color":{"condition":{"test":"datum.c>=datum.o","value":"#089981"},"value":"#f23645"}
    }},
   {"data":{"name":"w"},"mark":{"type":"bar","width":7},
    "encoding":{
     "x":{"field":"d","type":"temporal","scale":{"type":"utc","domain":[{"year":2021,"month":2,"date":14,"utc":true},{"year":2023,"month":8,"date":2,"utc":true}]}},
     "y":{"field":"o","type":"quantitative","scale":{"domain":[0.7807,1.3351],"nice":false,"zero":false}},
     "y2":{"field":"c"},
     "color":{"condition":{"test":"datum.c>=datum.o","value":"#089981"},"value":"#f23645"}
    }},
   {"data":{"name":"w"},"mark":{"type":"line","color":"#000000","strokeWidth":3},
    "encoding":{
     "x":{"field":"d","type":"temporal","scale":{"type":"utc","domain":[{"year":2021,"month":2,"date":14,"utc":true},{"year":2023,"month":8,"date":2,"utc":true}]}},
     "y":{"field":"m","type":"quantitative","scale":{"domain":[0.7807,1.3351],"nice":false,"zero":false}}
    }},
   {"data":{"name":"w"},"mark":{"type":"line","color":"#2962ff","strokeWidth":2},
    "encoding":{
     "x":{"field":"d","type":"temporal","scale":{"type":"utc","domain":[{"year":2021,"month":2,"date":14,"utc":true},{"year":2023,"month":8,"date":2,"utc":true}]}},
     "y":{"field":"b","type":"quantitative","scale":{"domain":[0.7807,1.3351],"nice":false,"zero":false}}
    }},
   {"data":{"name":"sig"},"mark":{"type":"point","filled":true,"size":324,"opacity":1,"strokeWidth":0},
    "encoding":{
     "x":{"field":"d","type":"temporal","scale":{"type":"utc","domain":[{"year":2021,"month":2,"date":14,"utc":true},{"year":2023,"month":8,"date":2,"utc":true}]}},
     "y":{"field":"p","type":"quantitative","scale":{"domain":[0.7807,1.3351],"nice":false,"zero":false}},
     "shape":{"condition":{"test":"datum.s=='Buy'","value":"M-1,-0.6L-0.25,-0.6L0,-0.9L0.25,-0.6L1,-0.6L1,0.6L-1,0.6Z"},"value":"M-1,-0.6L1,-0.6L1,0.6L0.25,0.6L0,0.9L-0.25,0.6L-1,0.6Z"},
     "color":{"condition":{"test":"datum.s=='Buy'","value":"#4caf50"},"value":"#f23645"}
    }},
   {"data":{"name":"sig"},"mark":{"type":"text","fontSize":6.5,"color":"#ffffff","baseline":"middle","align":"center"},
    "encoding":{
     "x":{"field":"d","type":"temporal","scale":{"type":"utc","domain":[{"year":2021,"month":2,"date":14,"utc":true},{"year":2023,"month":8,"date":2,"utc":true}]}},
     "y":{"field":"p","type":"quantitative","scale":{"domain":[0.7807,1.3351],"nice":false,"zero":false}},
     "text":{"field":"s"}
    }},
   {"data":{"values":[
      {"p":0.8125,"txt":"0.81250"},{"p":0.875,"txt":"0.87500"},{"p":0.9375,"txt":"0.93750"},{"p":1.0,"txt":"1.00000"},
      {"p":1.0625,"txt":"1.06250"},{"p":1.125,"txt":"1.12500"},{"p":1.1875,"txt":"1.18750"},{"p":1.25,"txt":"1.25000"}]},
    "mark":{"type":"text","fontSize":8,"color":"#131722","align":"left","baseline":"middle"},
    "encoding":{
     "x":{"datum":{"year":2023,"month":8,"date":5,"utc":true},"type":"temporal","scale":{"type":"utc","domain":[{"year":2021,"month":2,"date":14,"utc":true},{"year":2023,"month":8,"date":2,"utc":true}]}},
     "y":{"field":"p","type":"quantitative","scale":{"domain":[0.7807,1.3351],"nice":false,"zero":false}},
     "text":{"field":"txt"}
    }},
   {"data":{"values":[
      {"d":"2021-03-06","p":1.2766,"k":"red"},{"d":"2021-05-08","p":1.2766,"k":"blue"}]},
    "mark":{"type":"point","filled":true,"fill":"#ffffff","strokeWidth":1,"opacity":1,"size":1156,"shape":"M-1,-0.38L1,-0.38L1,0.38L-1,0.38Z"},
    "encoding":{
     "x":{"field":"d","type":"temporal","scale":{"type":"utc","domain":[{"year":2021,"month":2,"date":14,"utc":true},{"year":2023,"month":8,"date":2,"utc":true}]}},
     "y":{"field":"p","type":"quantitative","scale":{"domain":[0.7807,1.3351],"nice":false,"zero":false}},
     "stroke":{"condition":{"test":"datum.k=='red'","value":"#f23645"},"value":"#2962ff"}
    }},
   {"data":{"values":[{"d":"2023-08-17","p":1.3138}]},
    "mark":{"type":"point","filled":true,"fill":"#ffffff","stroke":"#d1d4dc","strokeWidth":1,"opacity":1,"size":576,"shape":"M-1,-0.5L1,-0.5L1,0.5L-1,0.5Z"},
    "encoding":{
     "x":{"field":"d","type":"temporal","scale":{"type":"utc","domain":[{"year":2021,"month":2,"date":14,"utc":true},{"year":2023,"month":8,"date":2,"utc":true}]}},
     "y":{"field":"p","type":"quantitative","scale":{"domain":[0.7807,1.3351],"nice":false,"zero":false}}
    }},
   {"data":{"values":[{"d":"2021-02-24","p":1.0930}]},
    "mark":{"type":"point","filled":true,"fill":"#ffffff","stroke":"#d1d4dc","strokeWidth":1,"opacity":1,"size":196,"shape":"M-1,-0.7L1,-0.7L1,0.7L-1,0.7Z"},
    "encoding":{
     "x":{"field":"d","type":"temporal","scale":{"type":"utc","domain":[{"year":2021,"month":2,"date":14,"utc":true},{"year":2023,"month":8,"date":2,"utc":true}]}},
     "y":{"field":"p","type":"quantitative","scale":{"domain":[0.7807,1.3351],"nice":false,"zero":false}}
    }},
   {"data":{"values":[{"d":"2023-07-25","p":1.0995}]},
    "mark":{"type":"point","filled":true,"color":"#f23645","opacity":1,"size":676,"shape":"M-1,-0.38L1,-0.38L1,0.38L-1,0.38Z"},
    "encoding":{
     "x":{"field":"d","type":"temporal","scale":{"type":"utc","domain":[{"year":2021,"month":2,"date":14,"utc":true},{"year":2023,"month":8,"date":2,"utc":true}]}},
     "y":{"field":"p","type":"quantitative","scale":{"domain":[0.7807,1.3351],"nice":false,"zero":false}}
    }},
   {"data":{"values":[{"d":"2023-07-25","p":1.0995,"txt":"6EU2023"}]},
    "mark":{"type":"text","fontSize":6.5,"color":"#ffffff","align":"center","baseline":"middle"},
    "encoding":{
     "x":{"field":"d","type":"temporal","scale":{"type":"utc","domain":[{"year":2021,"month":2,"date":14,"utc":true},{"year":2023,"month":8,"date":2,"utc":true}]}},
     "y":{"field":"p","type":"quantitative","scale":{"domain":[0.7807,1.3351],"nice":false,"zero":false}},
     "text":{"field":"txt"}
    }},
   {"data":{"values":[{"d":"2021-02-19","p":1.3138}]},
    "mark":{"type":"point","filled":true,"color":"#2962ff","opacity":1,"size":60,"shape":"circle"},
    "encoding":{
     "x":{"field":"d","type":"temporal","scale":{"type":"utc","domain":[{"year":2021,"month":2,"date":14,"utc":true},{"year":2023,"month":8,"date":2,"utc":true}]}},
     "y":{"field":"p","type":"quantitative","scale":{"domain":[0.7807,1.3351],"nice":false,"zero":false}}
    }},
   {"data":{"values":[{"d":"2021-05-31","p":1.3138}]},
    "mark":{"type":"point","filled":true,"color":"#f23645","opacity":1,"size":36,"shape":"square"},
    "encoding":{
     "x":{"field":"d","type":"temporal","scale":{"type":"utc","domain":[{"year":2021,"month":2,"date":14,"utc":true},{"year":2023,"month":8,"date":2,"utc":true}]}},
     "y":{"field":"p","type":"quantitative","scale":{"domain":[0.7807,1.3351],"nice":false,"zero":false}}
    }},
   {"data":{"values":[{"d":"2021-06-09","p":1.3138}]},
    "mark":{"type":"point","filled":true,"color":"#089981","opacity":1,"size":30,"shape":"circle"},
    "encoding":{
     "x":{"field":"d","type":"temporal","scale":{"type":"utc","domain":[{"year":2021,"month":2,"date":14,"utc":true},{"year":2023,"month":8,"date":2,"utc":true}]}},
     "y":{"field":"p","type":"quantitative","scale":{"domain":[0.7807,1.3351],"nice":false,"zero":false}}
    }},
   {"data":{"values":[{"d":"2021-02-26","p":1.3138,"txt":"EURO FX FUTURES · 1D · CME"}]},
    "mark":{"type":"text","fontSize":8,"color":"#131722","align":"left","baseline":"middle"},
    "encoding":{
     "x":{"field":"d","type":"temporal","scale":{"type":"utc","domain":[{"year":2021,"month":2,"date":14,"utc":true},{"year":2023,"month":8,"date":2,"utc":true}]}},
     "y":{"field":"p","type":"quantitative","scale":{"domain":[0.7807,1.3351],"nice":false,"zero":false}},
     "text":{"field":"txt"}
    }},
   {"data":{"values":[
      {"d":"2021-03-06","p":1.2766,"txt":"1.09950","k":"red"},
      {"d":"2021-04-06","p":1.2766,"txt":"0.00005","k":"gray"},
      {"d":"2021-05-08","p":1.2766,"txt":"1.09955","k":"blue"},
      {"d":"2023-08-17","p":1.3138,"txt":"USD ⌄","k":"gray"},
      {"d":"2021-02-24","p":1.0930,"txt":"^","k":"gray"}]},
    "mark":{"type":"text","fontSize":7,"align":"center","baseline":"middle"},
    "encoding":{
     "x":{"field":"d","type":"temporal","scale":{"type":"utc","domain":[{"year":2021,"month":2,"date":14,"utc":true},{"year":2023,"month":8,"date":2,"utc":true}]}},
     "y":{"field":"p","type":"quantitative","scale":{"domain":[0.7807,1.3351],"nice":false,"zero":false}},
     "text":{"field":"txt"},
     "color":{"condition":[{"test":"datum.k=='red'","value":"#f23645"},{"test":"datum.k=='blue'","value":"#2962ff"}],"value":"#131722"}
    }},
   {"data":{"values":[
      {"d":"2021-06-17","p":1.3138,"txt":"O1.10050 H1.10120 L1.09835 C1.09950 −0.00120 (−0.11%)"},
      {"d":"2021-02-19","p":1.2473,"txt":"69.2986"},
      {"d":"2021-02-19","p":1.1835,"txt":"1.09610"}]},
    "mark":{"type":"text","fontSize":7,"color":"#f23645","align":"left","baseline":"middle"},
    "encoding":{
     "x":{"field":"d","type":"temporal","scale":{"type":"utc","domain":[{"year":2021,"month":2,"date":14,"utc":true},{"year":2023,"month":8,"date":2,"utc":true}]}},
     "y":{"field":"p","type":"quantitative","scale":{"domain":[0.7807,1.3351],"nice":false,"zero":false}},
     "text":{"field":"txt"}
    }},
   {"data":{"values":[
      {"d":"2021-02-19","p":1.2127,"txt":"1.08859"},
      {"d":"2021-04-06","p":1.1542,"txt":"1.10"}]},
    "mark":{"type":"text","fontSize":7,"color":"#2962ff","align":"left","baseline":"middle"},
    "encoding":{
     "x":{"field":"d","type":"temporal","scale":{"type":"utc","domain":[{"year":2021,"month":2,"date":14,"utc":true},{"year":2023,"month":8,"date":2,"utc":true}]}},
     "y":{"field":"p","type":"quantitative","scale":{"domain":[0.7807,1.3351],"nice":false,"zero":false}},
     "text":{"field":"txt"}
    }},
   {"data":{"values":[
      {"d":"2021-02-19","p":1.1542,"txt":"1.08"}]},
    "mark":{"type":"text","fontSize":7,"color":"#4caf50","align":"left","baseline":"middle"},
    "encoding":{
     "x":{"field":"d","type":"temporal","scale":{"type":"utc","domain":[{"year":2021,"month":2,"date":14,"utc":true},{"year":2023,"month":8,"date":2,"utc":true}]}},
     "y":{"field":"p","type":"quantitative","scale":{"domain":[0.7807,1.3351],"nice":false,"zero":false}},
     "text":{"field":"txt"}
    }},
   {"data":{"values":[
      {"d":"2021-03-05","p":1.1542,"txt":"∅ ∅ ∅ ∅ ∅"},
      {"d":"2021-02-19","p":1.1223,"txt":"1.07265"}]},
    "mark":{"type":"text","fontSize":6.5,"color":"#131722","align":"left","baseline":"middle"},
    "encoding":{
     "x":{"field":"d","type":"temporal","scale":{"type":"utc","domain":[{"year":2021,"month":2,"date":14,"utc":true},{"year":2023,"month":8,"date":2,"utc":true}]}},
     "y":{"field":"p","type":"quantitative","scale":{"domain":[0.7807,1.3351],"nice":false,"zero":false}},
     "text":{"field":"txt"}
    }}
  ]}
 ],
 "resolve":{"scale":{"y":"independent"}}
},
{
 "width":1084,"height":65,
 "layer":[
  {"data":{"values":[{}]},"mark":{"type":"rect","color":"#2196f3","opacity":0.1},
   "encoding":{"y":{"datum":20,"type":"quantitative","scale":{"domain":[-6.9,105.2],"nice":false,"zero":false},
     "axis":{"orient":"right","values":[0,25,50,75,100],"labels":false,"grid":true}},"y2":{"datum":80}}},
  {"data":{"values":[{}]},"mark":{"type":"rule","color":"#787b86","strokeDash":[2,3],"strokeWidth":1,"opacity":0.5},
   "encoding":{"y":{"datum":50,"type":"quantitative","scale":{"domain":[-6.9,105.2],"nice":false,"zero":false}}}},
  {"data":{"values":[{}]},"mark":{"type":"rule","color":"#4caf50","strokeDash":[6,4],"strokeWidth":1.5},
   "encoding":{"y":{"datum":80,"type":"quantitative","scale":{"domain":[-6.9,105.2],"nice":false,"zero":false}}}},
  {"data":{"values":[{}]},"mark":{"type":"rule","color":"#f23645","strokeDash":[6,4],"strokeWidth":1.5},
   "encoding":{"y":{"datum":20,"type":"quantitative","scale":{"domain":[-6.9,105.2],"nice":false,"zero":false}}}},
  {"data":{"name":"stoch"},"mark":{"type":"line","color":"#089981","strokeWidth":1.6},
   "encoding":{
    "x":{"field":"d","type":"temporal","scale":{"type":"utc","domain":[{"year":2021,"month":2,"date":14,"utc":true},{"year":2023,"month":8,"date":2,"utc":true}]},
      "axis":{"values":[{"year":2021,"month":3,"date":1,"utc":true},{"year":2021,"month":4,"date":1,"utc":true},{"year":2021,"month":6,"date":1,"utc":true},{"year":2021,"month":7,"date":1,"utc":true},{"year":2021,"month":9,"date":1,"utc":true},{"year":2021,"month":11,"date":1,"utc":true},{"year":2022,"month":1,"date":1,"utc":true},{"year":2022,"month":3,"date":1,"utc":true},{"year":2022,"month":4,"date":1,"utc":true},{"year":2022,"month":6,"date":1,"utc":true},{"year":2022,"month":8,"date":1,"utc":true},{"year":2022,"month":9,"date":1,"utc":true},{"year":2022,"month":11,"date":1,"utc":true},{"year":2023,"month":1,"date":1,"utc":true},{"year":2023,"month":3,"date":1,"utc":true},{"year":2023,"month":4,"date":1,"utc":true},{"year":2023,"month":6,"date":1,"utc":true},{"year":2023,"month":8,"date":1,"utc":true}],"labels":false,"grid":true}},
    "y":{"field":"k","type":"quantitative","scale":{"domain":[-6.9,105.2],"nice":false,"zero":false}}
   }},
  {"data":{"name":"stoch"},"mark":{"type":"line","color":"#f23645","strokeWidth":1.6},
   "encoding":{
    "x":{"field":"d","type":"temporal","scale":{"type":"utc","domain":[{"year":2021,"month":2,"date":14,"utc":true},{"year":2023,"month":8,"date":2,"utc":true}]}},
    "y":{"field":"s","type":"quantitative","scale":{"domain":[-6.9,105.2],"nice":false,"zero":false}}
   }},
  {"data":{"values":[{"v":0,"txt":"0.00"},{"v":25,"txt":"25.00"},{"v":50,"txt":"50.00"},{"v":75,"txt":"75.00"},{"v":100,"txt":"100.00"}]},
   "mark":{"type":"text","fontSize":8,"color":"#131722","align":"left","baseline":"middle"},
   "encoding":{
    "x":{"datum":{"year":2023,"month":8,"date":5,"utc":true},"type":"temporal","scale":{"type":"utc","domain":[{"year":2021,"month":2,"date":14,"utc":true},{"year":2023,"month":8,"date":2,"utc":true}]}},
    "y":{"field":"v","type":"quantitative","scale":{"domain":[-6.9,105.2],"nice":false,"zero":false}},
    "text":{"field":"txt"}
   }},
  {"data":{"values":[{"d":"2021-02-24","v":76}]},
   "mark":{"type":"point","filled":true,"fill":"#ffffff","stroke":"#d1d4dc","strokeWidth":1,"opacity":1,"size":196,"shape":"M-1,-0.7L1,-0.7L1,0.7L-1,0.7Z"},
   "encoding":{
    "x":{"field":"d","type":"temporal","scale":{"type":"utc","domain":[{"year":2021,"month":2,"date":14,"utc":true},{"year":2023,"month":8,"date":2,"utc":true}]}},
    "y":{"field":"v","type":"quantitative","scale":{"domain":[-6.9,105.2],"nice":false,"zero":false}}
   }},
  {"data":{"values":[{"d":"2021-02-24","v":76,"txt":"^"}]},
   "mark":{"type":"text","fontSize":7,"color":"#131722","align":"center","baseline":"middle"},
   "encoding":{
    "x":{"field":"d","type":"temporal","scale":{"type":"utc","domain":[{"year":2021,"month":2,"date":14,"utc":true},{"year":2023,"month":8,"date":2,"utc":true}]}},
    "y":{"field":"v","type":"quantitative","scale":{"domain":[-6.9,105.2],"nice":false,"zero":false}},
    "text":{"field":"txt"}
   }},
  {"data":{"values":[{"d":"2021-02-19","v":94.8,"txt":"65.68"}]},
   "mark":{"type":"text","fontSize":7,"color":"#089981","align":"left","baseline":"middle"},
   "encoding":{
    "x":{"field":"d","type":"temporal","scale":{"type":"utc","domain":[{"year":2021,"month":2,"date":14,"utc":true},{"year":2023,"month":8,"date":2,"utc":true}]}},
    "y":{"field":"v","type":"quantitative","scale":{"domain":[-6.9,105.2],"nice":false,"zero":false}},
    "text":{"field":"txt"}
   }},
  {"data":{"values":[{"d":"2021-03-10","v":94.8,"txt":"44.25"}]},
   "mark":{"type":"text","fontSize":7,"color":"#f23645","align":"left","baseline":"middle"},
   "encoding":{
    "x":{"field":"d","type":"temporal","scale":{"type":"utc","domain":[{"year":2021,"month":2,"date":14,"utc":true},{"year":2023,"month":8,"date":2,"utc":true}]}},
    "y":{"field":"v","type":"quantitative","scale":{"domain":[-6.9,105.2],"nice":false,"zero":false}},
    "text":{"field":"txt"}
   }}
 ]
},
{
 "width":1084,"height":65,
 "layer":[
  {"data":{"name":"w"},"mark":{"type":"line","color":"#2b2bff","strokeWidth":1.6},
   "encoding":{
    "x":{"field":"d","type":"temporal","scale":{"type":"utc","domain":[{"year":2021,"month":2,"date":14,"utc":true},{"year":2023,"month":8,"date":2,"utc":true}]},
      "axis":{"values":[{"year":2021,"month":3,"date":1,"utc":true},{"year":2021,"month":4,"date":1,"utc":true},{"year":2021,"month":6,"date":1,"utc":true},{"year":2021,"month":7,"date":1,"utc":true},{"year":2021,"month":9,"date":1,"utc":true},{"year":2021,"month":11,"date":1,"utc":true},{"year":2022,"month":1,"date":1,"utc":true},{"year":2022,"month":3,"date":1,"utc":true},{"year":2022,"month":4,"date":1,"utc":true},{"year":2022,"month":6,"date":1,"utc":true},{"year":2022,"month":8,"date":1,"utc":true},{"year":2022,"month":9,"date":1,"utc":true},{"year":2022,"month":11,"date":1,"utc":true},{"year":2023,"month":1,"date":1,"utc":true},{"year":2023,"month":3,"date":1,"utc":true},{"year":2023,"month":4,"date":1,"utc":true},{"year":2023,"month":6,"date":1,"utc":true},{"year":2023,"month":8,"date":1,"utc":true}],
        "labelExpr":"utcFormat(datum.value,'%m')=='01' ? utcFormat(datum.value,'%Y') : utcFormat(datum.value,'%b')","grid":true,"labelPadding":3,"labelOverlap":false}},
    "y":{"field":"a","type":"quantitative","scale":{"domain":[5.2,53.3],"nice":false,"zero":false},
      "axis":{"orient":"right","values":[20,40],"labels":false,"grid":true}}
   }},
  {"data":{"name":"w"},"mark":{"type":"line","color":"#43a047","strokeWidth":1.6},
   "encoding":{
    "x":{"field":"d","type":"temporal","scale":{"type":"utc","domain":[{"year":2021,"month":2,"date":14,"utc":true},{"year":2023,"month":8,"date":2,"utc":true}]}},
    "y":{"field":"p","type":"quantitative","scale":{"domain":[5.2,53.3],"nice":false,"zero":false}}
   }},
  {"data":{"name":"w"},"mark":{"type":"line","color":"#ff5722","strokeWidth":1.6},
   "encoding":{
    "x":{"field":"d","type":"temporal","scale":{"type":"utc","domain":[{"year":2021,"month":2,"date":14,"utc":true},{"year":2023,"month":8,"date":2,"utc":true}]}},
    "y":{"field":"n","type":"quantitative","scale":{"domain":[5.2,53.3],"nice":false,"zero":false}}
   }},
  {"data":{"values":[{"v":20,"txt":"20.0000"},{"v":40,"txt":"40.0000"}]},
   "mark":{"type":"text","fontSize":8,"color":"#131722","align":"left","baseline":"middle"},
   "encoding":{
    "x":{"datum":{"year":2023,"month":8,"date":5,"utc":true},"type":"temporal","scale":{"type":"utc","domain":[{"year":2021,"month":2,"date":14,"utc":true},{"year":2023,"month":8,"date":2,"utc":true}]}},
    "y":{"field":"v","type":"quantitative","scale":{"domain":[5.2,53.3],"nice":false,"zero":false}},
    "text":{"field":"txt"}
   }},
  {"data":{"values":[{"d":"2021-02-24","v":40}]},
   "mark":{"type":"point","filled":true,"fill":"#ffffff","stroke":"#d1d4dc","strokeWidth":1,"opacity":1,"size":196,"shape":"M-1,-0.7L1,-0.7L1,0.7L-1,0.7Z"},
   "encoding":{
    "x":{"field":"d","type":"temporal","scale":{"type":"utc","domain":[{"year":2021,"month":2,"date":14,"utc":true},{"year":2023,"month":8,"date":2,"utc":true}]}},
    "y":{"field":"v","type":"quantitative","scale":{"domain":[5.2,53.3],"nice":false,"zero":false}}
   }},
  {"data":{"values":[{"d":"2021-02-24","v":40,"txt":"^"}]},
   "mark":{"type":"text","fontSize":7,"color":"#131722","align":"center","baseline":"middle"},
   "encoding":{
    "x":{"field":"d","type":"temporal","scale":{"type":"utc","domain":[{"year":2021,"month":2,"date":14,"utc":true},{"year":2023,"month":8,"date":2,"utc":true}]}},
    "y":{"field":"v","type":"quantitative","scale":{"domain":[5.2,53.3],"nice":false,"zero":false}},
    "text":{"field":"txt"}
   }},
  {"data":{"values":[{"d":"2021-02-19","v":47.4,"txt":"15.9871"}]},
   "mark":{"type":"text","fontSize":7,"color":"#2b2bff","align":"left","baseline":"middle"},
   "encoding":{
    "x":{"field":"d","type":"temporal","scale":{"type":"utc","domain":[{"year":2021,"month":2,"date":14,"utc":true},{"year":2023,"month":8,"date":2,"utc":true}]}},
    "y":{"field":"v","type":"quantitative","scale":{"domain":[5.2,53.3],"nice":false,"zero":false}},
    "text":{"field":"txt"}
   }},
  {"data":{"values":[{"d":"2021-03-14","v":47.4,"txt":"20.9535"}]},
   "mark":{"type":"text","fontSize":7,"color":"#43a047","align":"left","baseline":"middle"},
   "encoding":{
    "x":{"field":"d","type":"temporal","scale":{"type":"utc","domain":[{"year":2021,"month":2,"date":14,"utc":true},{"year":2023,"month":8,"date":2,"utc":true}]}},
    "y":{"field":"v","type":"quantitative","scale":{"domain":[5.2,53.3],"nice":false,"zero":false}},
    "text":{"field":"txt"}
   }},
  {"data":{"values":[{"d":"2021-04-07","v":47.4,"txt":"18.8151"}]},
   "mark":{"type":"text","fontSize":7,"color":"#ff5722","align":"left","baseline":"middle"},
   "encoding":{
    "x":{"field":"d","type":"temporal","scale":{"type":"utc","domain":[{"year":2021,"month":2,"date":14,"utc":true},{"year":2023,"month":8,"date":2,"utc":true}]}},
    "y":{"field":"v","type":"quantitative","scale":{"domain":[5.2,53.3],"nice":false,"zero":false}},
    "text":{"field":"txt"}
   }},
  {"data":{"values":[{"d":"2021-02-21","v":8.9,"txt":"TV"}]},
   "mark":{"type":"text","fontSize":11,"fontWeight":"bold","color":"#131722","align":"left","baseline":"middle"},
   "encoding":{
    "x":{"field":"d","type":"temporal","scale":{"type":"utc","domain":[{"year":2021,"month":2,"date":14,"utc":true},{"year":2023,"month":8,"date":2,"utc":true}]}},
    "y":{"field":"v","type":"quantitative","scale":{"domain":[5.2,53.3],"nice":false,"zero":false}},
    "text":{"field":"txt"}
   }}
 ]
}
]
}
